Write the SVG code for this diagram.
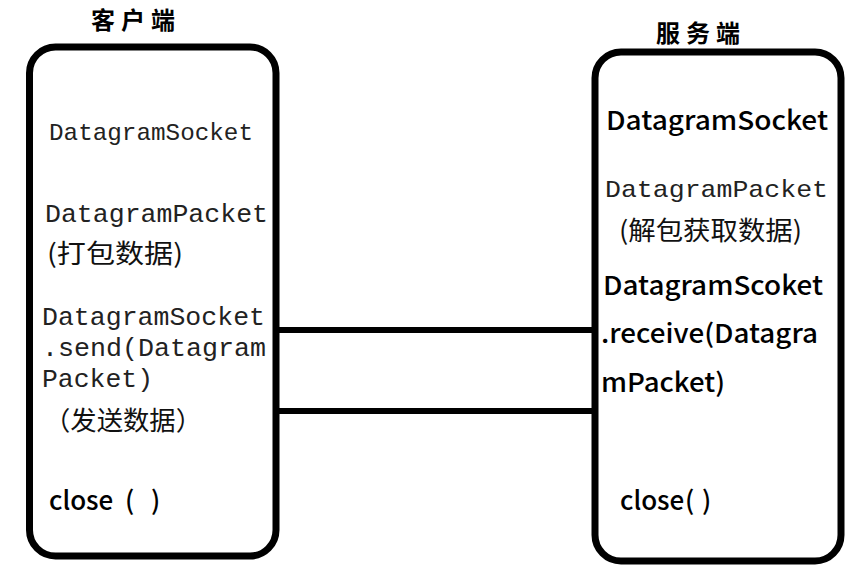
<svg xmlns="http://www.w3.org/2000/svg" width="863" height="576" viewBox="0 0 863 576">
<style>
.box{fill:#fff;stroke:#000;stroke-width:7}
.conn{stroke:#000;stroke-width:6;fill:none}
.mono{font-family:"Liberation Mono","Courier New",monospace;font-size:26px;fill:#222}
.sans{font-family:"Noto Sans CJK SC","Noto Sans",sans-serif;font-size:26px;font-weight:500;fill:#000}
.cjk{font-weight:400;fill:#111}
.title{font-family:"Noto Sans CJK SC",sans-serif;font-size:24px;font-weight:bold;fill:#000;letter-spacing:6px}
</style>
<rect width="863" height="576" fill="#fff"/>
<g id="connectors">
<line class="conn" x1="278" y1="330" x2="595" y2="330"/>
<line class="conn" x1="278" y1="411" x2="595" y2="411"/>
</g>
<g id="client">
<rect class="box" x="29.5" y="47" width="246.5" height="509" rx="26"/>
<text class="title" x="91" y="29">客户端</text>
<text class="mono" x="49" y="140" textLength="204" lengthAdjust="spacingAndGlyphs" style="font-size:24px">DatagramSocket</text>
<text class="mono" x="45" y="222" textLength="223" lengthAdjust="spacingAndGlyphs">DatagramPacket</text>
<text class="sans cjk" x="47" y="263" textLength="136" lengthAdjust="spacingAndGlyphs">(打包数据)</text>
<text class="mono" x="42" y="325" textLength="223" lengthAdjust="spacingAndGlyphs">DatagramSocket</text>
<text class="mono" x="42" y="356" textLength="224" lengthAdjust="spacingAndGlyphs">.send(Datagram</text>
<text class="mono" x="42" y="387" textLength="111" lengthAdjust="spacingAndGlyphs">Packet)</text>
<text class="sans cjk" x="44" y="430" textLength="158" lengthAdjust="spacingAndGlyphs">（发送数据）</text>
<text class="sans" x="49" y="510">close<tspan x="125">(</tspan><tspan x="151">)</tspan></text>
</g>
<g id="server">
<rect class="box" x="595" y="52" width="246" height="509" rx="26"/>
<text class="title" x="656" y="42">服务端</text>
<text class="sans" x="606" y="130" textLength="222" lengthAdjust="spacingAndGlyphs">DatagramSocket</text>
<text class="mono" x="605" y="197" textLength="223" lengthAdjust="spacingAndGlyphs" style="font-size:24px">DatagramPacket</text>
<text class="sans cjk" x="619" y="240" textLength="183" lengthAdjust="spacingAndGlyphs">(解包获取数据)</text>
<text class="sans" x="603" y="295" textLength="220" lengthAdjust="spacingAndGlyphs">DatagramScoket</text>
<text class="sans" x="601" y="343" textLength="217" lengthAdjust="spacingAndGlyphs">.receive(Datagra</text>
<text class="sans" x="601" y="392" textLength="124" lengthAdjust="spacingAndGlyphs">mPacket)</text>
<text class="sans" x="620" y="510">close<tspan x="685">(</tspan><tspan x="702">)</tspan></text>
</g>
</svg>
